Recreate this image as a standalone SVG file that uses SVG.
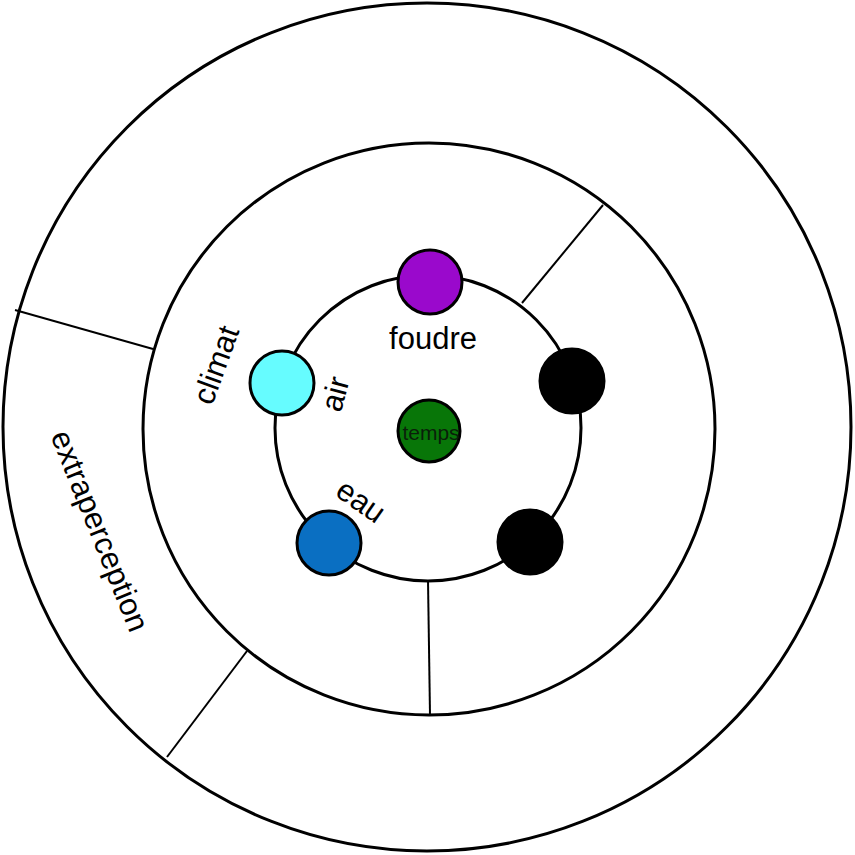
<svg xmlns="http://www.w3.org/2000/svg" width="855" height="855" viewBox="0 0 855 855">
<style>
.ring{fill:none;stroke:#000;stroke-width:3}
.node{stroke:#000;stroke-width:3}
.sep{stroke:#000;stroke-width:2}
.lbl{font-family:"Liberation Sans",Arial,sans-serif;font-size:31px;fill:#000;text-anchor:middle;dominant-baseline:central}
</style>
<rect width="855" height="855" fill="#fff"/>
<g id="rings">
<circle class="ring" cx="427" cy="427" r="424"/>
<circle class="ring" cx="429" cy="429" r="286"/>
<circle class="ring" cx="428" cy="428" r="153"/>
</g>
<g id="connectors">
<line class="sep" x1="522" y1="303" x2="603" y2="205"/>
<line class="sep" x1="15" y1="310" x2="153" y2="349"/>
<line class="sep" x1="428" y1="580" x2="430" y2="715"/>
<line class="sep" x1="247" y1="651" x2="167" y2="757"/>
</g>
<g id="foudre"><circle class="node" cx="430" cy="282" r="32" fill="#9a09cc"/><text class="lbl" x="433" y="338">foudre</text></g>
<g id="black1"><circle class="node" cx="572" cy="381" r="32" fill="#000"/></g>
<g id="black2"><circle class="node" cx="530" cy="542" r="32" fill="#000"/></g>
<g id="eau"><circle class="node" cx="329" cy="543" r="32" fill="#0a6fc2"/><text class="lbl" transform="translate(361 501) rotate(35)">eau</text></g>
<g id="air"><circle class="node" cx="282" cy="383" r="32" fill="#66fcff"/><text class="lbl" transform="translate(335 394) rotate(-75)">air</text></g>
<g id="temps"><circle class="node" cx="429" cy="431" r="31" fill="#087608"/><text class="lbl" x="431" y="432" style="font-size:21px;fill:#0a1f0a">temps</text></g>
<g id="climat"><text class="lbl" transform="translate(216 365) rotate(-70)">climat</text></g>
<g id="extraperception"><text class="lbl" transform="translate(100 531) rotate(68)">extraperception</text></g>
</svg>
